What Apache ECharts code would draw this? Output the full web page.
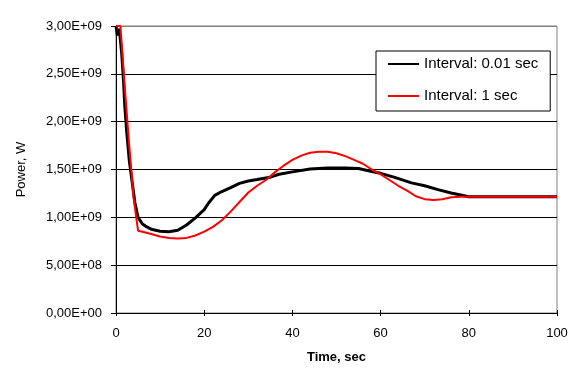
<!DOCTYPE html>
<html>
<head>
<meta charset="utf-8">
<script src="https://cdn.jsdelivr.net/npm/echarts@6/dist/echarts.min.js"></script>
<style>
  html, body { margin: 0; padding: 0; background: #fff; }
  #chart { width: 577px; height: 377px; }
</style>
</head>
<body>
<div id="chart"></div>
<script>
// time (sec), power (W)
const fineTime = [0, 0.3, 0.6, 0.9, 1.3, 1.7, 2.0, 2.4, 3.0, 3.6, 4.3, 5, 6, 7, 8, 10, 12, 14, 16, 18, 20, 21, 22.4, 24, 26, 28, 30, 32, 35, 37, 40, 44, 48, 52, 55, 58, 60, 63, 67, 70, 73, 76, 80, 85, 90, 100];
const finePower = [3.0e9, 2.9e9, 2.97e9, 2.9e9, 2.71e9, 2.43e9, 2.16e9, 1.91e9, 1.6e9, 1.39e9, 1.15e9, 1.0e9, 0.93e9, 0.9e9, 0.875e9, 0.855e9, 0.85e9, 0.865e9, 0.92e9, 0.995e9, 1.08e9, 1.15e9, 1.23e9, 1.27e9, 1.31e9, 1.355e9, 1.38e9, 1.395e9, 1.42e9, 1.45e9, 1.475e9, 1.505e9, 1.515e9, 1.515e9, 1.51e9, 1.48e9, 1.46e9, 1.42e9, 1.36e9, 1.33e9, 1.29e9, 1.255e9, 1.215e9, 1.215e9, 1.215e9, 1.215e9];

const coarseTime = [0, 1, 2, 3, 4, 5, 6, 8, 10, 12, 14, 16, 18, 20, 22, 24, 26, 28, 30, 32, 34, 36, 38, 40, 42, 44, 46, 48, 50, 52, 54, 56, 58, 60, 62, 64, 66, 68, 70, 72, 74, 76, 78, 80, 90, 100];
const coarsePower = [3.0e9, 3.0e9, 2.35e9, 1.75e9, 1.2e9, 0.86e9, 0.85e9, 0.825e9, 0.80e9, 0.785e9, 0.78e9, 0.785e9, 0.81e9, 0.85e9, 0.9e9, 0.97e9, 1.06e9, 1.16e9, 1.26e9, 1.33e9, 1.39e9, 1.47e9, 1.54e9, 1.6e9, 1.645e9, 1.675e9, 1.685e9, 1.685e9, 1.67e9, 1.64e9, 1.6e9, 1.56e9, 1.5e9, 1.45e9, 1.39e9, 1.33e9, 1.28e9, 1.22e9, 1.19e9, 1.18e9, 1.19e9, 1.21e9, 1.215e9, 1.215e9, 1.215e9, 1.215e9];

const seriesNames = ['Interval: 0.01 sec', 'Interval: 1 sec'];

const pairs = (xs, ys) => xs.map((x, i) => [x, ys[i]]);

function sci(v) {
    if (v === 0) return '0,00E+00';
    const parts = v.toExponential(2).split('e');
    const exp = parseInt(parts[1], 10);
    const sign = exp < 0 ? '-' : '+';
    const e = String(Math.abs(exp)).padStart(2, '0');
    return parts[0].replace('.', ',') + 'E' + sign + e;
}

const font = 'Liberation Sans, Arial, sans-serif';
const chart = echarts.init(document.getElementById('chart'));

const xBase = {
    type: 'value', min: 0, max: 100, interval: 20, position: 'bottom',
    axisLine: {show: true, lineStyle: {color: '#000', width: 1}},
    splitLine: {show: false}
};
const yBase = {
    type: 'value', min: 0, max: 3e9, interval: 5e8, position: 'left',
    axisLine: {show: true, lineStyle: {color: '#000', width: 1}}
};

chart.setOption({
    animation: false,
    backgroundColor: '#fff',
    grid: {left: 116, right: 20, top: 26, bottom: 64, show: true, borderColor: '#808080', borderWidth: 1, backgroundColor: 'transparent'},
    legend: {
        orient: 'vertical', left: 376, top: 51,
        backgroundColor: '#fff', borderColor: '#000', borderWidth: 1,
        padding: [4, 12, 6, 11],
        itemWidth: 31, itemHeight: 18, itemGap: 14,
        itemStyle: {opacity: 0},
        textStyle: {fontFamily: font, fontSize: 15, color: '#000', lineHeight: 18},
        data: seriesNames
    },
    xAxis: [
        Object.assign({}, xBase, {
            name: 'Time, sec', nameLocation: 'middle', nameGap: 38,
            nameTextStyle: {fontFamily: font, fontSize: 13, fontWeight: 'bold', color: '#000'},
            axisTick: {show: true, inside: false, length: 3, lineStyle: {color: '#000'}},
            axisLabel: {fontFamily: font, fontSize: 13, color: '#000', margin: 14}
        }),
        Object.assign({}, xBase, {
            axisTick: {show: true, inside: true, length: 3, lineStyle: {color: '#000'}},
            axisLabel: {show: false}
        })
    ],
    yAxis: [
        Object.assign({}, yBase, {
            name: 'Power, W', nameLocation: 'middle', nameGap: 88, nameRotate: 90,
            nameTextStyle: {fontFamily: font, fontSize: 13, color: '#000'},
            axisTick: {show: true, inside: false, length: 5, lineStyle: {color: '#000'}},
            axisLabel: {fontFamily: font, fontSize: 13, color: '#000', margin: 14, formatter: sci},
            splitLine: {show: true, lineStyle: {color: ['#000', '#000', '#000', '#000', '#000', '#000', '#808080'], width: 1}}
        }),
        Object.assign({}, yBase, {
            axisTick: {show: true, inside: true, length: 4, lineStyle: {color: '#000'}},
            axisLabel: {show: false},
            splitLine: {show: false}
        })
    ],
    series: [
        {
            name: seriesNames[0], type: 'line', symbol: 'none', smooth: false,
            lineStyle: {color: '#000', width: 3}, itemStyle: {color: '#000'},
            data: pairs(fineTime, finePower), z: 2
        },
        {
            name: seriesNames[1], type: 'line', symbol: 'none', smooth: false,
            lineStyle: {color: '#ff0000', width: 2}, itemStyle: {color: '#ff0000'},
            data: pairs(coarseTime, coarsePower), z: 3
        }
    ]
});
</script>
</body>
</html>
